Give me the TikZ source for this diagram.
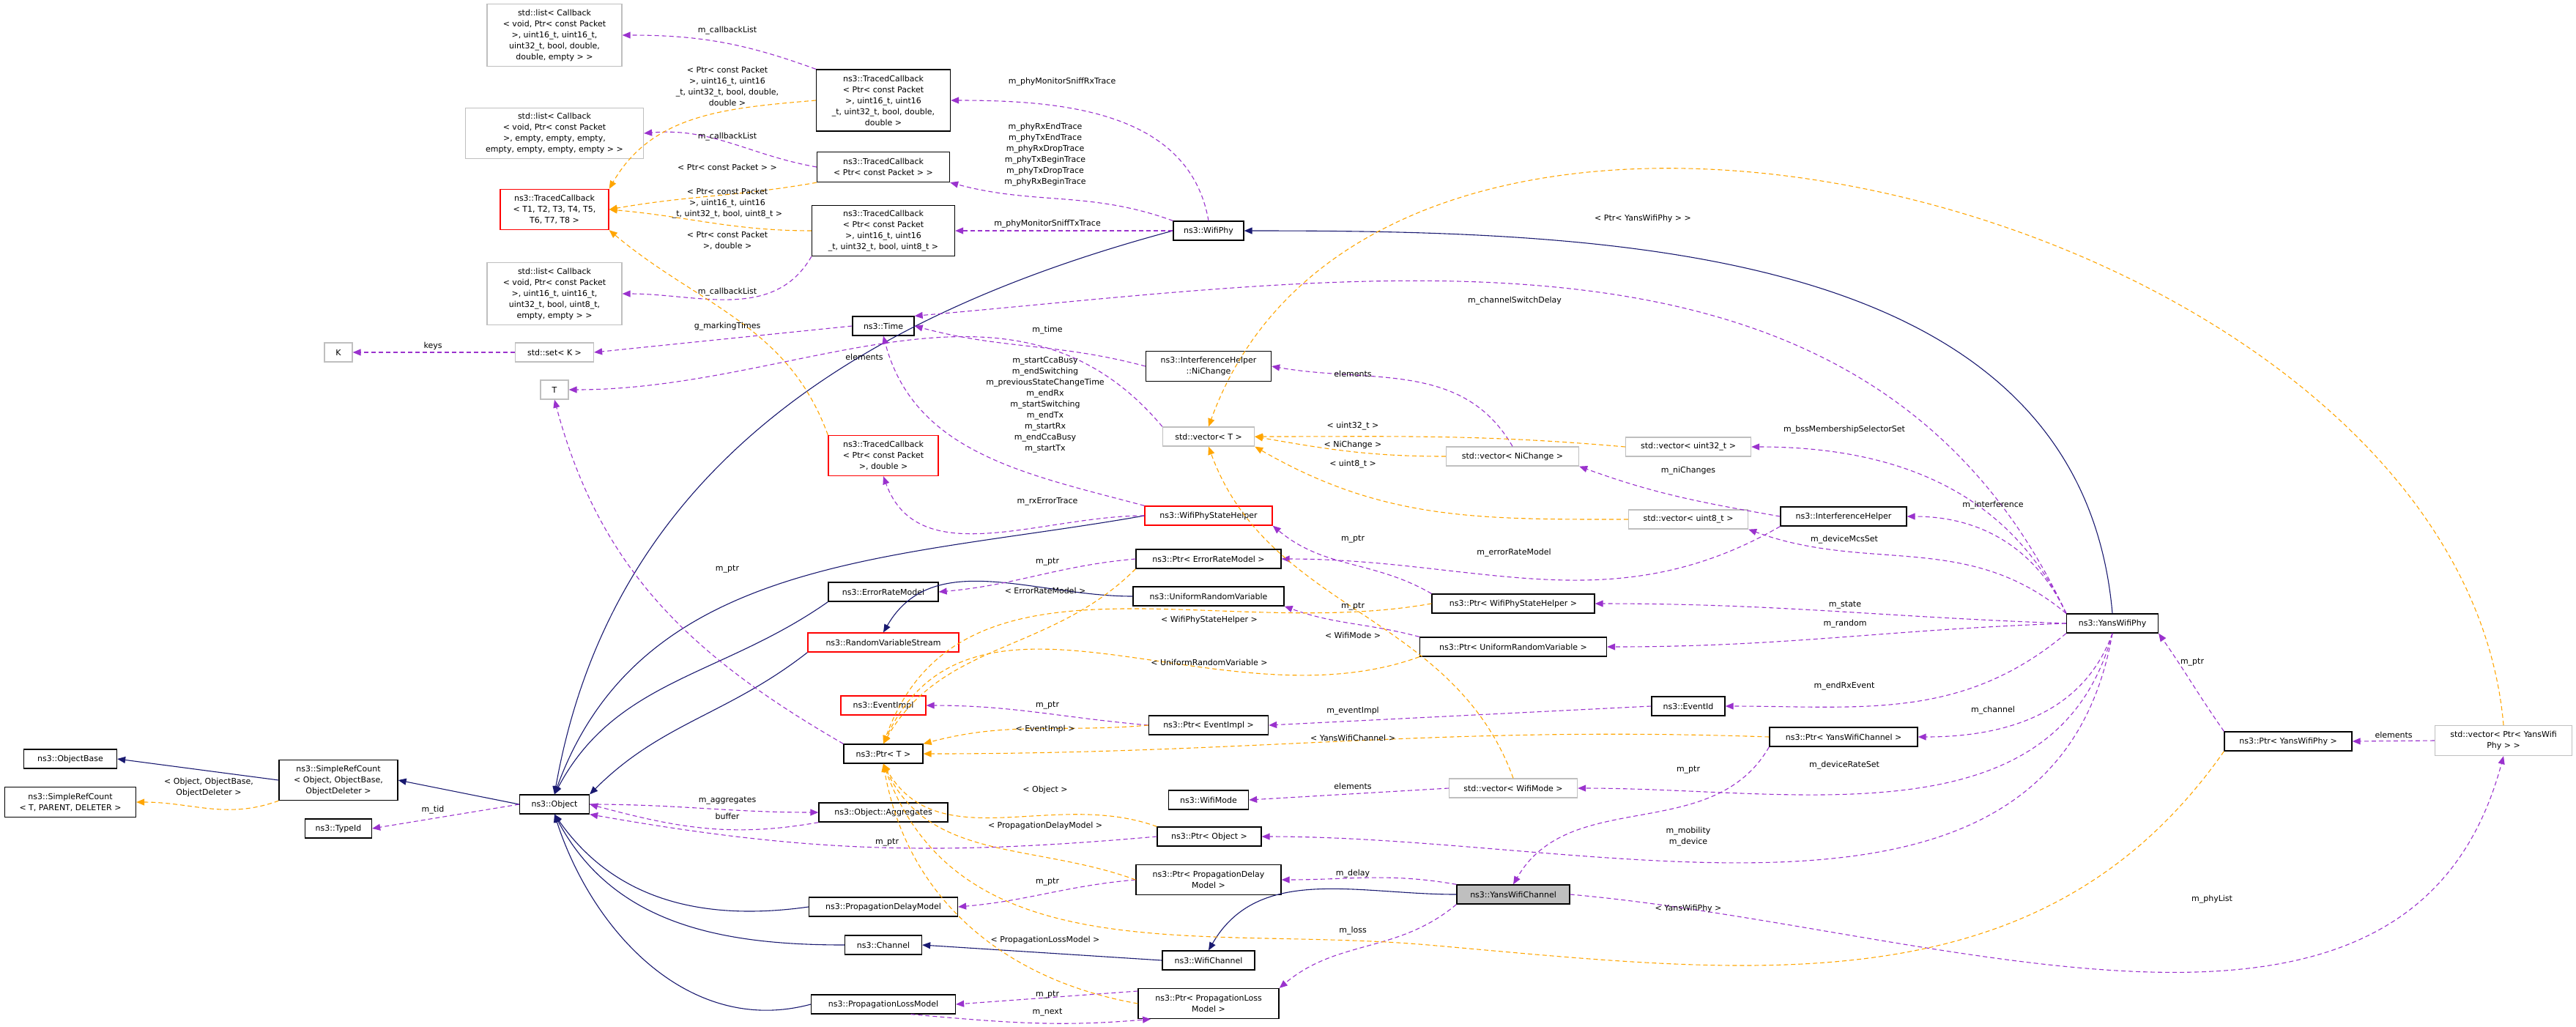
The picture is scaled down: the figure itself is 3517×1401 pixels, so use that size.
\documentclass[tikz,border=0pt]{standalone}
\usepackage{fontspec}
\setmainfont{DejaVu Sans}
\usetikzlibrary{arrows.meta}
\definecolor{purp}{HTML}{9A32CD}
\definecolor{orng}{HTML}{FFA500}
\definecolor{navy}{HTML}{191970}
\definecolor{gbox}{HTML}{BFBFBF}
\newcommand\mkbox[7]{\node[#6,minimum width={0.2*#4pt},minimum height={0.2*#5pt}] (#1) at (#2,#3) {#7};}
\begin{document}
\begin{tikzpicture}[x=0.2pt,y=-0.2pt,
  every node/.style={font=\fontsize{2.2}{3}\selectfont,inner sep=0.2pt},
  bk/.style={draw=black,line width=0.26pt,fill=white,align=center},
  gy/.style={draw=gbox,line width=0.26pt,fill=white,align=center},
  rd/.style={draw=red,line width=0.26pt,fill=white,align=center},
  sel/.style={draw=black,line width=0.26pt,fill=gbox,align=center},
  lbl/.style={align=center,fill=none},
  pe/.style={draw=purp,line width=0.22pt,dash pattern=on 1.2pt off 0.8pt,-{Triangle[length=2.2pt,width=1.8pt]}},
  oe/.style={draw=orng,line width=0.22pt,dash pattern=on 1.2pt off 0.8pt,-{Triangle[length=2.2pt,width=1.8pt]}},
  ne/.style={draw=navy,line width=0.22pt,-{Triangle[length=2.2pt,width=1.8pt]}}]
\useasboundingbox (0,0) rectangle (3517,1401);
% nodes
\mkbox{Lone}{757}{48}{184}{85}{gy}{std::list< Callback\\< void, Ptr< const Packet\\>, uint16\_t, uint16\_t,\\uint32\_t, bool, double,\\double, empty > >}
\mkbox{Ltwo}{757}{182}{243}{69}{gy}{std::list< Callback\\< void, Ptr< const Packet\\>, empty, empty, empty,\\empty, empty, empty, empty > >}
\mkbox{TCg}{757}{286}{148}{55}{rd}{ns3::TracedCallback\\< T1, T2, T3, T4, T5,\\T6, T7, T8 >}
\mkbox{Lthree}{757}{401}{184}{85}{gy}{std::list< Callback\\< void, Ptr< const Packet\\>, uint16\_t, uint16\_t,\\uint32\_t, bool, uint8\_t,\\empty, empty > >}
\mkbox{K}{462}{481}{38}{26}{gy}{K}
\mkbox{set}{757}{481}{107}{26}{gy}{std::set< K >}
\mkbox{T}{757}{532}{38}{26}{gy}{T}
\mkbox{TCone}{1206}{137}{183}{84}{bk}{ns3::TracedCallback\\< Ptr< const Packet\\>, uint16\_t, uint16\\\_t, uint32\_t, bool, double,\\double >}
\mkbox{TCtwo}{1206}{228}{181}{41}{bk}{ns3::TracedCallback\\< Ptr< const Packet > >}
\mkbox{TCthree}{1206}{315}{195}{69}{bk}{ns3::TracedCallback\\< Ptr< const Packet\\>, uint16\_t, uint16\\\_t, uint32\_t, bool, uint8\_t >}
\mkbox{Time}{1206}{445}{84}{26}{bk}{ns3::Time}
\mkbox{TCfour}{1206}{622}{150}{55}{rd}{ns3::TracedCallback\\< Ptr< const Packet\\>, double >}
\mkbox{WifiPhy}{1650}{315}{96}{26}{bk}{ns3::WifiPhy}
\mkbox{NiCh}{1650}{500}{171}{41}{bk}{ns3::InterferenceHelper\\::NiChange}
\mkbox{vT}{1650}{596}{125}{26}{gy}{std::vector< T >}
\mkbox{vNi}{2065}{623}{181}{26}{gy}{std::vector< NiChange >}
\mkbox{vu32}{2305}{610}{171}{26}{gy}{std::vector< uint32\_t >}
\mkbox{vu8}{2305}{709}{163}{26}{gy}{std::vector< uint8\_t >}
\mkbox{WPSH}{1650}{704}{174}{26}{rd}{ns3::WifiPhyStateHelper}
\mkbox{IH}{2517}{705}{172}{26}{bk}{ns3::InterferenceHelper}
\mkbox{YWP}{2884}{851}{125}{26}{bk}{ns3::YansWifiPhy}
\mkbox{PERM}{1650}{763}{198}{26}{bk}{ns3::Ptr< ErrorRateModel >}
\mkbox{ERM}{1206}{808}{150}{26}{bk}{ns3::ErrorRateModel}
\mkbox{URV}{1650}{814}{206}{26}{bk}{ns3::UniformRandomVariable}
\mkbox{RVS}{1206}{877}{206}{26}{rd}{ns3::RandomVariableStream}
\mkbox{PWPSH}{2066}{824}{222}{26}{bk}{ns3::Ptr< WifiPhyStateHelper >}
\mkbox{PURV}{2066}{883}{255}{26}{bk}{ns3::Ptr< UniformRandomVariable >}
\mkbox{EvI}{1206}{963}{116}{26}{rd}{ns3::EventImpl}
\mkbox{PEvI}{1650}{990}{163}{26}{bk}{ns3::Ptr< EventImpl >}
\mkbox{EvId}{2305}{964}{100}{26}{bk}{ns3::EventId}
\mkbox{PT}{1206}{1029}{108}{26}{bk}{ns3::Ptr< T >}
\mkbox{PYWC}{2517}{1006}{202}{26}{bk}{ns3::Ptr< YansWifiChannel >}
\mkbox{PYWP}{3124}{1012}{174}{26}{bk}{ns3::Ptr< YansWifiPhy >}
\mkbox{vPYWP}{3418}{1011}{187}{41}{gy}{std::vector< Ptr< YansWifi\\Phy > >}
\mkbox{WM}{1650}{1092}{109}{26}{bk}{ns3::WifiMode}
\mkbox{vWM}{2066}{1076}{175}{26}{gy}{std::vector< WifiMode >}
\mkbox{Agg}{1206}{1109}{176}{26}{bk}{ns3::Object::Aggregates}
\mkbox{PObj}{1651}{1142}{142}{26}{bk}{ns3::Ptr< Object >}
\mkbox{PPDM}{1650}{1201}{198}{41}{bk}{ns3::Ptr< PropagationDelay\\Model >}
\mkbox{YWC}{2066}{1221}{154}{26}{sel}{ns3::YansWifiChannel}
\mkbox{PDM}{1206}{1238}{203}{26}{bk}{ns3::PropagationDelayModel}
\mkbox{Chan}{1206}{1290}{105}{26}{bk}{ns3::Channel}
\mkbox{WCh}{1650}{1311}{126}{26}{bk}{ns3::WifiChannel}
\mkbox{PPLM}{1650}{1370}{192}{41}{bk}{ns3::Ptr< PropagationLoss\\Model >}
\mkbox{PLM}{1206}{1371}{197}{26}{bk}{ns3::PropagationLossModel}
\mkbox{OB}{96}{1036}{127}{26}{bk}{ns3::ObjectBase}
\mkbox{SRCT}{96}{1095}{179}{41}{bk}{ns3::SimpleRefCount\\< T, PARENT, DELETER >}
\mkbox{SRCO}{462}{1065}{162}{55}{bk}{ns3::SimpleRefCount\\< Object, ObjectBase,\\ObjectDeleter >}
\mkbox{TId}{462}{1131}{91}{26}{bk}{ns3::TypeId}
\mkbox{Obj}{757}{1098}{95}{26}{bk}{ns3::Object}
% navy inheritance
\draw[ne] (SRCO.west) -- (OB.east);
\draw[ne] (Obj.west) -- (SRCO.east);
\draw[ne] (WifiPhy.west) to[out=195,in=80] (Obj.north);
\draw[ne] (WPSH.west) to[out=190,in=70] (Obj.north);
\draw[ne] (ERM.south west) to[out=215,in=62] (Obj.north);
\draw[ne] (RVS.south west) to[out=218,in=45] (Obj.north east);
\draw[ne] (URV.west) to[out=180,in=60] (RVS.north);
\draw[ne] (PDM.west) to[out=188,in=-55] (Obj.south);
\draw[ne] (Chan.west) to[out=180,in=-62] (Obj.south);
\draw[ne] (PLM.west) to[out=195,in=-72] (Obj.south);
\draw[ne] (WCh.west) -- (Chan.east);
\draw[ne] (YWC.west) to[out=180,in=60] (WCh.north);
\draw[ne] (YWP.north) to[out=95,in=0] (WifiPhy.east);
% purple usage
\draw[pe] (TCone.north west) to[out=160,in=0] (Lone.east);
\draw[pe] (TCtwo.west) to[out=170,in=5] (Ltwo.east);
\draw[pe] (TCthree.south west) to[out=240,in=0] (Lthree.east);
\draw[pe] (Time.west) -- (set.east);
\draw[pe] (set.west) -- (K.east);
\draw[pe] (vT.north west) to[out=130,in=0] (T.east);
\draw[pe] (PT.north west) to[out=150,in=-75] (T.south);
\draw[pe] (WifiPhy.north) to[out=100,in=0] (TCone.east);
\draw[pe] (WifiPhy.north west) to[out=160,in=-15] (TCtwo.south east);
\draw[pe] (WifiPhy.west) -- (TCthree.east);
\draw[pe] (YWP.north west) to[out=115,in=5] (Time.north east);
\draw[pe] (NiCh.west) to[out=165,in=-15] (Time.east);
\draw[pe] (WPSH.north west) to[out=165,in=-75] (Time.south);
\draw[pe] (WPSH.west) to[out=180,in=-70] (TCfour.south);
\draw[pe] (vNi.north) to[out=120,in=-10] (NiCh.east);
\draw[pe] (IH.west) to[out=170,in=-20] (vNi.south east);
\draw[pe] (YWP.north west) to[out=115,in=0] (vu32.east);
\draw[pe] (YWP.north west) to[out=115,in=0] (IH.east);
\draw[pe] (YWP.north west) to[out=140,in=-20] (vu8.south east);
\draw[pe] (YWP.west) to[out=178,in=0] (PWPSH.east);
\draw[pe] (YWP.west) to[out=182,in=0] (PURV.east);
\draw[pe] (YWP.south west) to[out=220,in=0] (EvId.east);
\draw[pe] (YWP.south) to[out=250,in=0] (PYWC.east);
\draw[pe] (YWP.south) to[out=255,in=0] (vWM.east);
\draw[pe] (YWP.south) to[out=260,in=0] (PObj.east);
\draw[pe] (PYWP.north west) to[out=125,in=-55] (YWP.south east);
\draw[pe] (vPYWP.west) -- (PYWP.east);
\draw[pe] (YWC.east) to[out=-5,in=-105] (vPYWP.south);
\draw[pe] (PYWC.south west) to[out=240,in=60] (YWC.north);
\draw[pe] (YWC.north west) to[out=170,in=0] (PPDM.east);
\draw[pe] (YWC.south west) to[out=220,in=40] (PPLM.north east);
\draw[pe] (PERM.west) to[out=185,in=5] (ERM.east);
\draw[pe] (IH.south west) to[out=210,in=0] (PERM.east);
\draw[pe] (PWPSH.north west) to[out=150,in=-40] (WPSH.south east);
\draw[pe] (PURV.north west) to[out=165,in=-20] (URV.south east);
\draw[pe] (PEvI.west) to[out=175,in=0] (EvI.east);
\draw[pe] (EvId.west) -- (PEvI.east);
\draw[pe] (vWM.west) -- (WM.east);
\draw[pe] (PObj.west) to[out=185,in=-10] (Obj.south east);
\draw[pe] (Obj.east) to[out=0,in=180] (Agg.west);
\draw[pe] (Agg.south west) to[out=190,in=-15] (Obj.east);
\draw[pe] (Obj.west) -- (TId.east);
\draw[pe] (PPDM.west) to[out=185,in=5] (PDM.east);
\draw[pe] (PPLM.170) -- (PLM.east);
\draw[pe] (PLM.-20) to[out=-5,in=185] (PPLM.195);
% orange templates
\draw[oe] (TCone.west) to[out=185,in=60] (TCg.north east);
\draw[oe] (TCtwo.south west) to[out=190,in=10] (TCg.east);
\draw[oe] (TCthree.west) to[out=180,in=-5] (TCg.east);
\draw[oe] (TCfour.north west) to[out=110,in=-40] (TCg.south east);
\draw[oe] (vu32.west) to[out=175,in=0] (vT.east);
\draw[oe] (vNi.west) to[out=180,in=-10] (vT.east);
\draw[oe] (vu8.west) to[out=180,in=-30] (vT.south east);
\draw[oe] (vWM.north) to[out=110,in=-70] (vT.south);
\draw[oe] (vPYWP.north) to[out=95,in=70] (vT.north);
\draw[oe] (SRCO.south west) to[out=200,in=0] (SRCT.east);
\draw[oe] (PERM.south west) to[out=225,in=60] (PT.north);
\draw[oe] (PWPSH.west) to[out=190,in=70] (PT.north);
\draw[oe] (PURV.south west) to[out=200,in=65] (PT.north);
\draw[oe] (PEvI.west) to[out=185,in=15] (PT.north east);
\draw[oe] (PYWC.west) to[out=178,in=0] (PT.east);
\draw[oe] (PObj.north west) to[out=160,in=-60] (PT.south);
\draw[oe] (PPDM.west) to[out=160,in=-65] (PT.south);
\draw[oe] (PPLM.west) to[out=170,in=-80] (PT.south);
\coordinate (via) at (1950,1290);
\draw[oe] (PYWP.south west) to[out=235,in=-5] (via) to[out=175,in=-70] (PT.south);
% labels
\node[lbl] (a1) at (993,42) {m\_callbackList};
\node[lbl] (a2) at (993,187) {m\_callbackList};
\node[lbl] (a3) at (993,399) {m\_callbackList};
\node[lbl] (a4) at (993,446) {g\_markingTimes};
\node[lbl] (a5) at (591,472) {keys};
\node[lbl] (a6) at (1180,487) {elements};
\node[lbl] (a7) at (1450,112) {m\_phyMonitorSniffRxTrace};
\node[lbl] (a8) at (1427,211) {m\_phyRxEndTrace\\m\_phyTxEndTrace\\m\_phyRxDropTrace\\m\_phyTxBeginTrace\\m\_phyTxDropTrace\\m\_phyRxBeginTrace};
\node[lbl] (a9) at (1430,306) {m\_phyMonitorSniffTxTrace};
\node[lbl] (a10) at (2068,411) {m\_channelSwitchDelay};
\node[lbl] (a11) at (1430,451) {m\_time};
\node[lbl] (a12) at (1427,553) {m\_startCcaBusy\\m\_endSwitching\\m\_previousStateChangeTime\\m\_endRx\\m\_startSwitching\\m\_endTx\\m\_startRx\\m\_endCcaBusy\\m\_startTx};
\node[lbl] (a13) at (1430,685) {m\_rxErrorTrace};
\node[lbl] (a14) at (1847,510) {elements};
\node[lbl] (a15) at (2305,643) {m\_niChanges};
\node[lbl] (a16) at (2518,587) {m\_bssMembershipSelectorSet};
\node[lbl] (a17) at (2721,690) {m\_interference};
\node[lbl] (a18) at (2518,737) {m\_deviceMcsSet};
\node[lbl] (a19) at (2519,826) {m\_state};
\node[lbl] (a20) at (2519,852) {m\_random};
\node[lbl] (a21) at (2518,937) {m\_endRxEvent};
\node[lbl] (a22) at (2721,970) {m\_channel};
\node[lbl] (a23) at (2518,1045) {m\_deviceRateSet};
\node[lbl] (a24) at (2305,1142) {m\_mobility\\m\_device};
\node[lbl] (a25) at (2993,904) {m\_ptr};
\node[lbl] (a26) at (3268,1003) {elements};
\node[lbl] (a27) at (3020,1228) {m\_phyList};
\node[lbl] (a28) at (2305,1051) {m\_ptr};
\node[lbl] (a29) at (1847,1193) {m\_delay};
\node[lbl] (a30) at (1847,1271) {m\_loss};
\node[lbl] (a31) at (1430,767) {m\_ptr};
\node[lbl] (a32) at (2067,755) {m\_errorRateModel};
\node[lbl] (a33) at (1847,736) {m\_ptr};
\node[lbl] (a34) at (1847,828) {m\_ptr};
\node[lbl] (a35) at (1430,963) {m\_ptr};
\node[lbl] (a36) at (1847,971) {m\_eventImpl};
\node[lbl] (a37) at (1847,1073) {elements};
\node[lbl] (a38) at (1211,1150) {m\_ptr};
\node[lbl] (a39) at (993,1093) {m\_aggregates};
\node[lbl] (a40) at (993,1114) {buffer};
\node[lbl] (a41) at (591,1106) {m\_tid};
\node[lbl] (a42) at (1430,1204) {m\_ptr};
\node[lbl] (a43) at (1430,1358) {m\_ptr};
\node[lbl] (a44) at (1430,1382) {m\_next};
\node[lbl] (a45) at (993,777) {m\_ptr};
\node[lbl] (b1) at (993,118) {< Ptr< const Packet\\>, uint16\_t, uint16\\\_t, uint32\_t, bool, double,\\double >};
\node[lbl] (b2) at (993,228) {< Ptr< const Packet > >};
\node[lbl] (b3) at (993,278) {< Ptr< const Packet\\>, uint16\_t, uint16\\\_t, uint32\_t, bool, uint8\_t >};
\node[lbl] (b4) at (993,328) {< Ptr< const Packet\\>, double >};
\node[lbl] (b5) at (1847,582) {< uint32\_t >};
\node[lbl] (b6) at (1847,607) {< NiChange >};
\node[lbl] (b7) at (1847,634) {< uint8\_t >};
\node[lbl] (b8) at (1847,867) {< WifiMode >};
\node[lbl] (b9) at (2243,298) {< Ptr< YansWifiPhy > >};
\node[lbl] (b10) at (1427,806) {< ErrorRateModel >};
\node[lbl] (b11) at (1651,846) {< WifiPhyStateHelper >};
\node[lbl] (b12) at (1651,904) {< UniformRandomVariable >};
\node[lbl] (b13) at (1427,995) {< EventImpl >};
\node[lbl] (b14) at (1847,1007) {< YansWifiChannel >};
\node[lbl] (b15) at (1427,1078) {< Object >};
\node[lbl] (b16) at (1427,1127) {< PropagationDelayModel >};
\node[lbl] (b17) at (1427,1283) {< PropagationLossModel >};
\node[lbl] (b18) at (2305,1240) {< YansWifiPhy >};
\node[lbl] (b19) at (285,1075) {< Object, ObjectBase,\\ObjectDeleter >};
\end{tikzpicture}
\end{document}
